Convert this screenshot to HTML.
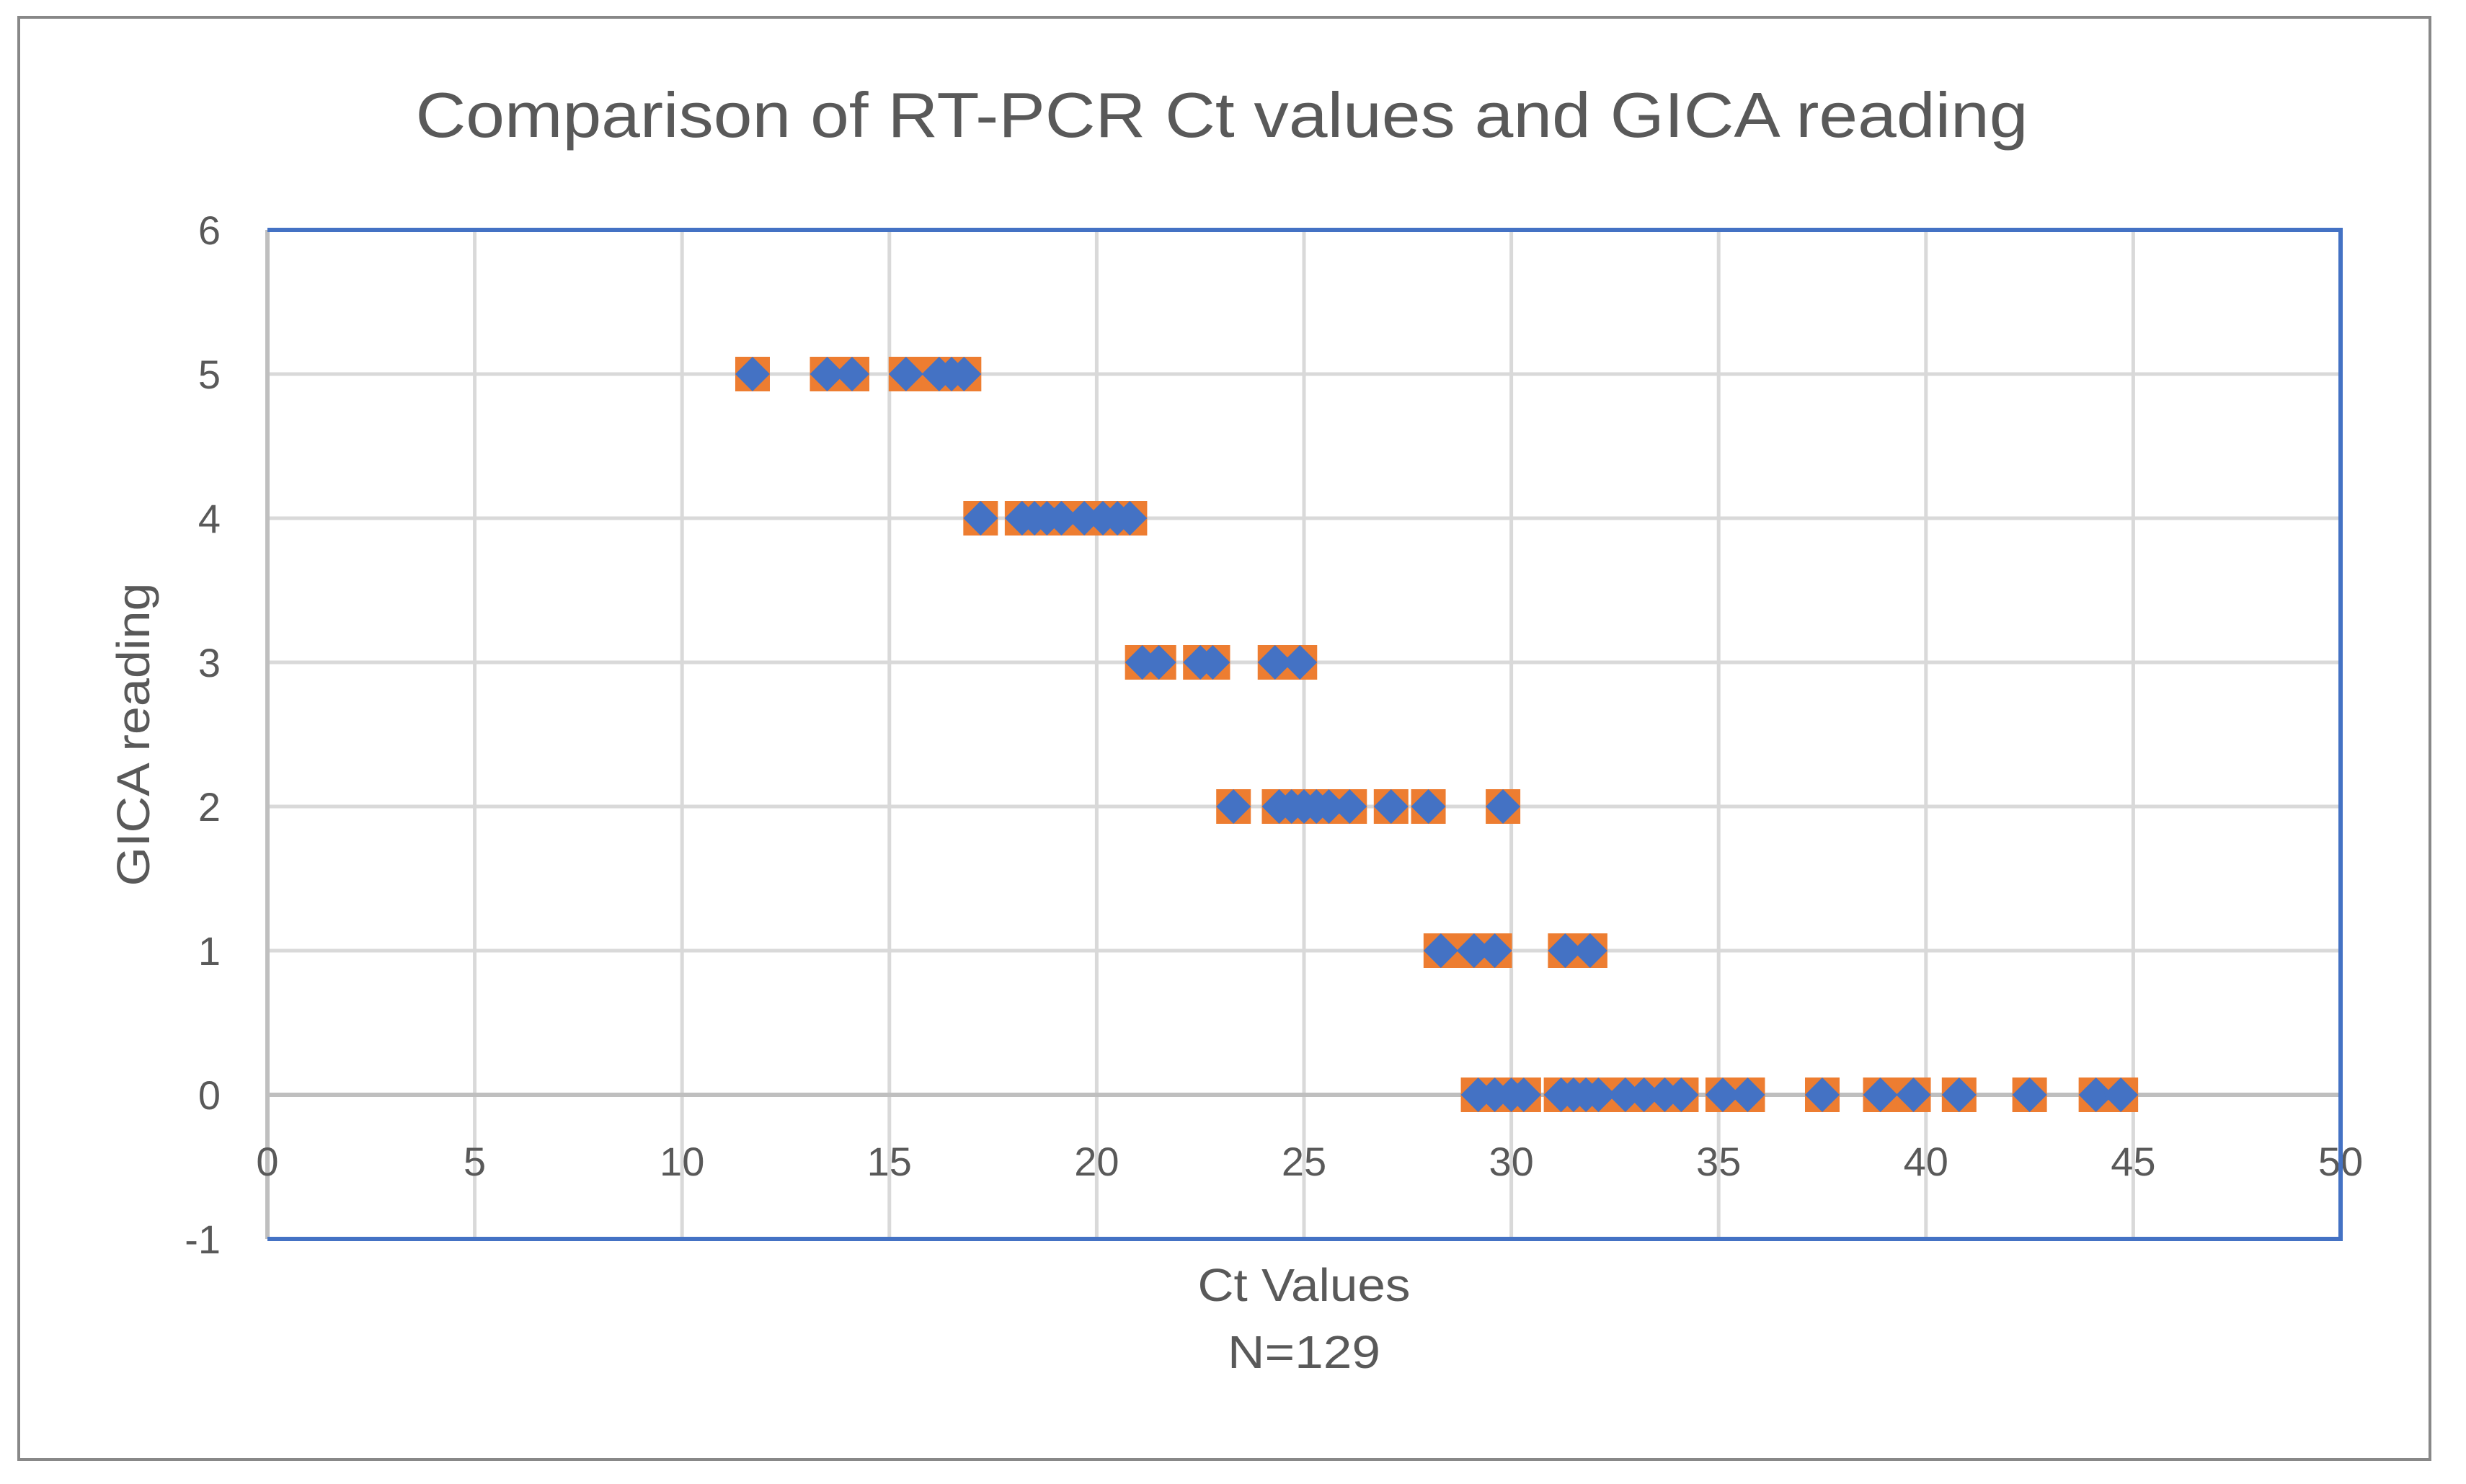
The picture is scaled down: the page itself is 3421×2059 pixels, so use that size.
<!DOCTYPE html>
<html><head><meta charset="utf-8"><style>
body{margin:0;background:#fff}
svg{display:block;font-family:"Liberation Sans",sans-serif}
</style></head><body>
<svg id="c" width="3421" height="2059"></svg>
<script>
const yTicks=[-1,0,1,2,3,4,5,6];
const xTicks=[0,5,10,15,20,25,30,35,40,45,50];
const ctValues=[11.7,13.5,14.1,15.4,16.2,16.5,16.8,
17.2,18.2,18.5,18.8,19.15,19.7,20.15,20.5,20.8,
21.1,21.5,22.5,22.8,24.3,24.9,
23.3,24.4,24.7,25.0,25.3,25.6,26.1,27.1,28.0,29.8,
28.3,29.1,29.6,31.3,31.9,
29.2,29.6,30.0,30.3,31.2,31.5,31.8,32.1,32.75,33.2,33.7,34.1,35.1,35.7,37.5,38.9,39.7,40.8,42.5,44.1,44.7];
const gicaReadings=[5,5,5,5,5,5,5,
4,4,4,4,4,4,4,4,4,
3,3,3,3,3,3,
2,2,2,2,2,2,2,2,2,2,
1,1,1,1,1,
0,0,0,0,0,0,0,0,0,0,0,0,0,0,0,0,0,0,0,0,0];
const L=371,R=3247,T=319,B=1719;
const X=v=>L+(v-0)/(50-0)*(R-L);
const Y=v=>B-(v+1)/7*(B-T);
const svg=document.getElementById('c');
const NS='http://www.w3.org/2000/svg';
function mk(t,a,txt){const e=document.createElementNS(NS,t);for(const k in a)e.setAttribute(k,a[k]);if(txt!=null)e.textContent=txt;svg.appendChild(e);return e;}
let e;
e=mk('rect',{x:26,y:24,width:3345,height:2001,fill:'#fff',stroke:'#888',"stroke-width":4});


e=mk('text',{x:1695,y:190,"text-anchor":"middle","font-size":88,fill:'#595959',textLength:2237,lengthAdjust:'spacingAndGlyphs'},'Comparison of RT-PCR Ct values and GICA reading');


xTicks.forEach(v=>{
 e=mk('line',{x1:X(v),x2:X(v),y1:T,y2:B,stroke:'#d9d9d9',"stroke-width":5});
 
 
});
yTicks.forEach(v=>{
 e=mk('line',{x1:L,x2:R,y1:Y(v),y2:Y(v),stroke:v===0?'#bfbfbf':'#d9d9d9',"stroke-width":v===0?6:5});
 
 
 e=mk('text',{x:306,y:Y(v)+20,"text-anchor":"end","font-size":56,fill:'#595959'},String(v));
 
 
});
e=mk('line',{x1:L,x2:L,y1:T,y2:B,stroke:'#bfbfbf',"stroke-width":6});


xTicks.forEach(v=>{
 e=mk('text',{x:X(v),y:1631,"text-anchor":"middle","font-size":56,fill:'#595959'},String(v));
 
 
});
ctValues.forEach((v,i)=>{
 const cx=X(v),cy=Y(gicaReadings[i]),s=24;
 e=mk('rect',{x:cx-s,y:cy-s,width:2*s,height:2*s,fill:'#ed7d31'});
 
 
});
ctValues.forEach((v,i)=>{
 const cx=X(v),cy=Y(gicaReadings[i]),s=24;
 e=mk('polygon',{points:`${cx},${cy-s} ${cx+s},${cy} ${cx},${cy+s} ${cx-s},${cy}`,fill:'#4472c4'});
 
 
});
e=mk('polyline',{points:`${L},${T} ${R},${T} ${R},${B} ${L},${B}`,fill:'none',stroke:'#4472c4',"stroke-width":6});


e=mk('text',{x:1809,y:1805,"text-anchor":"middle","font-size":64,fill:'#595959',textLength:295,lengthAdjust:'spacingAndGlyphs'},'Ct Values');


e=mk('text',{x:1809,y:1898,"text-anchor":"middle","font-size":64,fill:'#595959',textLength:212,lengthAdjust:'spacingAndGlyphs'},'N=129');


e=mk('text',{x:0,y:0,"text-anchor":"middle","font-size":64,fill:'#595959',textLength:421,lengthAdjust:'spacingAndGlyphs',transform:'translate(207,1019) rotate(-90)'},'GICA reading');


</script>
</body></html>
